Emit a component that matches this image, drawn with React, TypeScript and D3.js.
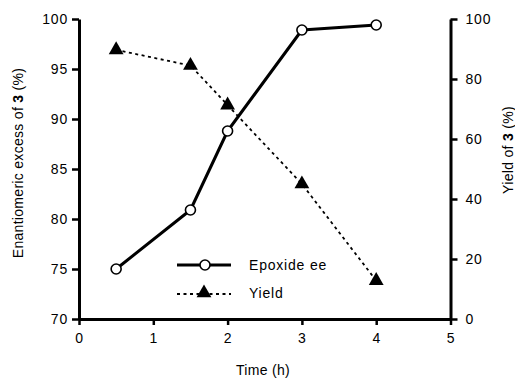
import { useEffect, useRef } from "react";
import * as d3 from "d3";

// data
const times = [0.5, 1.5, 2, 3, 4];
const eeValues = [75, 80.9, 88.8, 98.9, 99.4];
const yieldValues = [89.7, 84.5, 71.3, 45, 12.8];
const xTicks = [0, 1, 2, 3, 4, 5];
const leftTicks = [70, 75, 80, 85, 90, 95, 100];
const rightTicks = [0, 20, 40, 60, 80, 100];

const W = 515;
const H = 379;
const FONT = "'Liberation Sans', Arial, Helvetica, sans-serif";

const App = () => {
  const svgRef = useRef<SVGSVGElement>(null);

  useEffect(() => {
    if (!svgRef.current) return;
    const svg = d3.select(svgRef.current);
    svg.selectAll("*").remove();

    const margin = { top: 19, right: 64.5, bottom: 60, left: 79 };
    const x = d3.scaleLinear().domain([0, 5]).range([margin.left, W - margin.right]);
    const yL = d3.scaleLinear().domain([70, 100]).range([H - margin.bottom, margin.top]);
    const yR = d3.scaleLinear().domain([0, 100]).range([H - margin.bottom, margin.top]);

    const styleAxis = (g: d3.Selection<SVGGElement, unknown, null, undefined>) => {
      g.select(".domain").attr("stroke", "#000").attr("stroke-width", 3);
      g.selectAll(".tick line").attr("stroke", "#000").attr("stroke-width", 2.5);
      g.selectAll(".tick text")
        .attr("fill", "#000")
        .attr("font-family", FONT)
        .attr("font-size", 14)
        .attr("letter-spacing", 0.8);
    };

    // bottom axis
    svg
      .append("g")
      .attr("transform", `translate(0, ${H - margin.bottom})`)
      .call(d3.axisBottom(x).tickValues(xTicks).tickSize(6).tickSizeOuter(0).tickPadding(8).tickFormat(d3.format("d")))
      .call(styleAxis);

    // left axis
    svg
      .append("g")
      .attr("transform", `translate(${margin.left}, 0)`)
      .call(d3.axisLeft(yL).tickValues(leftTicks).tickSize(7).tickSizeOuter(0).tickPadding(4).tickFormat(d3.format("d")))
      .call(styleAxis);

    // right axis
    svg
      .append("g")
      .attr("transform", `translate(${W - margin.right}, 0)`)
      .call(d3.axisRight(yR).tickValues(rightTicks).tickSize(7).tickSizeOuter(0).tickPadding(8).tickFormat(d3.format("d")))
      .call(styleAxis);

    // axis titles
    const title = (tx: number, ty: number, rot: number, parts: [string, boolean][]) => {
      const t = svg
        .append("text")
        .attr("transform", `translate(${tx}, ${ty}) rotate(${rot})`)
        .attr("text-anchor", "middle")
        .attr("font-family", FONT)
        .attr("font-size", 14)
        .attr("letter-spacing", 0.3)
        .attr("fill", "#000");
      parts.forEach(([s, bold]) => t.append("tspan").attr("font-weight", bold ? "bold" : "normal").text(s));
    };
    title(23, 163, -90, [["Enantiomeric excess of ", false], ["3", true], [" (%)", false]]);
    title(513, 150, -90, [["Yield of ", false], ["3", true], [" (%)", false]]);
    title(263, 375, 0, [["Time (h)", false]]);

    const eeData = times.map((t, i) => [t, eeValues[i]] as [number, number]);
    const yieldData = times.map((t, i) => [t, yieldValues[i]] as [number, number]);

    // yield: dotted line + filled triangles
    svg
      .append("path")
      .datum(yieldData)
      .attr("fill", "none")
      .attr("stroke", "#000")
      .attr("stroke-width", 1.8)
      .attr("stroke-dasharray", "3,3.5")
      .attr("d", d3.line<[number, number]>().x((d) => x(d[0])).y((d) => yR(d[1])));

    const tri = d3.symbol().type(d3.symbolTriangle).size(95);
    svg
      .selectAll(".tri")
      .data(yieldData)
      .enter()
      .append("path")
      .attr("transform", (d) => `translate(${x(d[0])}, ${yR(d[1])})`)
      .attr("d", tri)
      .attr("fill", "#000");

    // epoxide ee: solid line + open circles
    svg
      .append("path")
      .datum(eeData)
      .attr("fill", "none")
      .attr("stroke", "#000")
      .attr("stroke-width", 3)
      .attr("stroke-linejoin", "round")
      .attr("d", d3.line<[number, number]>().x((d) => x(d[0])).y((d) => yL(d[1])));

    svg
      .selectAll(".dot")
      .data(eeData)
      .enter()
      .append("circle")
      .attr("cx", (d) => x(d[0]))
      .attr("cy", (d) => yL(d[1]))
      .attr("r", 5)
      .attr("fill", "#fff")
      .attr("stroke", "#000")
      .attr("stroke-width", 1.6);

    // legend
    const lg = svg.append("g");
    lg.append("line").attr("x1", 177).attr("x2", 231).attr("y1", 265).attr("y2", 265).attr("stroke", "#000").attr("stroke-width", 3);
    lg.append("circle").attr("cx", 205).attr("cy", 265).attr("r", 5).attr("fill", "#fff").attr("stroke", "#000").attr("stroke-width", 1.6);
    lg.append("line")
      .attr("x1", 177)
      .attr("x2", 231)
      .attr("y1", 294)
      .attr("y2", 294)
      .attr("stroke", "#000")
      .attr("stroke-width", 1.8)
      .attr("stroke-dasharray", "3,3.5");
    lg.append("path").attr("transform", "translate(204, 293)").attr("d", tri).attr("fill", "#000");
    ["Epoxide ee", "Yield"].forEach((s, i) =>
      lg
        .append("text")
        .attr("x", 249)
        .attr("y", 270 + i * 28)
        .attr("font-family", FONT)
        .attr("font-size", 14)
        .attr("letter-spacing", 0.8)
        .attr("fill", "#000")
        .text(s)
    );
  }, []);

  return (
    <div style={{ position: "absolute", left: 0, top: 0, width: W, height: H, background: "#fff" }}>
      <svg ref={svgRef} width={W} height={H} />
    </div>
  );
};

export default App;
